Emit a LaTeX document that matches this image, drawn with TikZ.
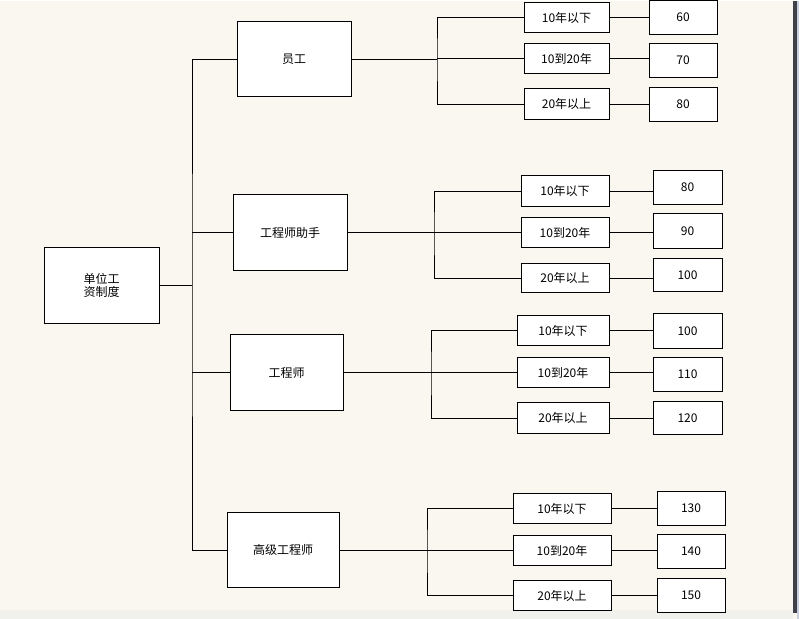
\documentclass[tikz,border=0pt]{standalone}
\usepackage{fontspec}
\setmainfont{Noto Sans CJK SC}
\usetikzlibrary{positioning}
\definecolor{PaperColor}{RGB}{249,247,240}
\definecolor{FrameDark}{RGB}{64,64,72}
\definecolor{FrameBlue}{RGB}{200,208,224}
\definecolor{StripColor}{RGB}{240,240,236}

\begin{document}
\begin{tikzpicture}[x=1pt, y=-1pt,
    cell/.style={draw, line width=1pt, fill=white, inner sep=0pt, font=\fontsize{12}{13}\selectfont, align=center},
    link/.style={line width=1pt}]
        % paper and window edge
        \fill[PaperColor] (0,0) rectangle (799,618);
        \fill[StripColor] (0,609) rectangle (793,618);
        \fill[FrameDark] (793,0) rectangle (797,612);
        \fill[FrameBlue] (797,0) rectangle (799,618);

        \node[cell, minimum width=115, minimum height=76] (root) at (101.5,285) {单位工\\资制度};
        \node[cell, minimum width=114, minimum height=75] (staff) at (294,58.5) {员工};
        \node[cell, minimum width=114, minimum height=76] (assist) at (290,232) {工程师助手};
        \node[cell, minimum width=113, minimum height=76] (eng) at (286.5,372) {工程师};
        \node[cell, minimum width=112, minimum height=75] (senior) at (283,549.5) {高级工程师};

        % years, staff
        \node[cell, minimum width=85, minimum height=30] (sA) at (566.5,17) {10年以下};
        \node[cell, minimum width=85, minimum height=30] (sB) at (566.5,58) {10到20年};
        \node[cell, minimum width=85, minimum height=31] (sC) at (566.5,103.5) {20年以上};
        \node[cell, minimum width=68, minimum height=34] (sApay) at (683,17) {60};
        \node[cell, minimum width=68, minimum height=34] (sBpay) at (683,60) {70};
        \node[cell, minimum width=68, minimum height=34] (sCpay) at (683,104) {80};

        % years, assistant
        \node[cell, minimum width=88, minimum height=31] (aA) at (565,190.5) {10年以下};
        \node[cell, minimum width=88, minimum height=30] (aB) at (565,232) {10到20年};
        \node[cell, minimum width=88, minimum height=29] (aC) at (565,277.5) {20年以上};
        \node[cell, minimum width=69, minimum height=34] (aApay) at (687.5,187) {80};
        \node[cell, minimum width=69, minimum height=35] (aBpay) at (687.5,230.5) {90};
        \node[cell, minimum width=69, minimum height=33] (aCpay) at (687.5,274.5) {100};

        % years, engineer
        \node[cell, minimum width=92, minimum height=30] (eA) at (563,330) {10年以下};
        \node[cell, minimum width=92, minimum height=30] (eB) at (563,372) {10到20年};
        \node[cell, minimum width=92, minimum height=31] (eC) at (563,417.5) {20年以上};
        \node[cell, minimum width=69, minimum height=35] (eApay) at (687.5,330.5) {100};
        \node[cell, minimum width=69, minimum height=34] (eBpay) at (687.5,374) {110};
        \node[cell, minimum width=69, minimum height=33] (eCpay) at (687.5,417.5) {120};

        % years, senior engineer
        \node[cell, minimum width=98, minimum height=30] (gA) at (562,508) {10年以下};
        \node[cell, minimum width=98, minimum height=30] (gB) at (562,550) {10到20年};
        \node[cell, minimum width=98, minimum height=30] (gC) at (562,595) {20年以上};
        \node[cell, minimum width=68, minimum height=34] (gApay) at (691,508) {130};
        \node[cell, minimum width=68, minimum height=34] (gBpay) at (691,551) {140};
        \node[cell, minimum width=68, minimum height=34] (gCpay) at (691,595) {150};

        % trunk and buses
        \coordinate (trunk) at (192,285);
        \coordinate (sBus) at (437,58);
        \coordinate (aBus) at (434,232);
        \coordinate (eBus) at (431,372);
        \coordinate (gBus) at (427,550);

        \draw[link] (root.east) -- (trunk);
        \draw[link] (staff.west) -| (trunk) |- (senior.west);
        \draw[link] (assist.west) -- (assist.west -| trunk);
        \draw[link] (eng.west) -- (eng.west -| trunk);

        \foreach \r/\g in {staff/s, assist/a, eng/e, senior/g} {
            \draw[link] (\r.east) -- (\r.east -| \g Bus);
            \draw[link] (\g A.west) -| (\g Bus) |- (\g C.west);
            \draw[link] (\g B.west) -- (\g B.west -| \g Bus);
            \foreach \k in {A,B,C}
                \draw[link] (\g\k.east) -- (\g\k.east -| \g\k pay.west);
        }
\end{tikzpicture}
\end{document}
